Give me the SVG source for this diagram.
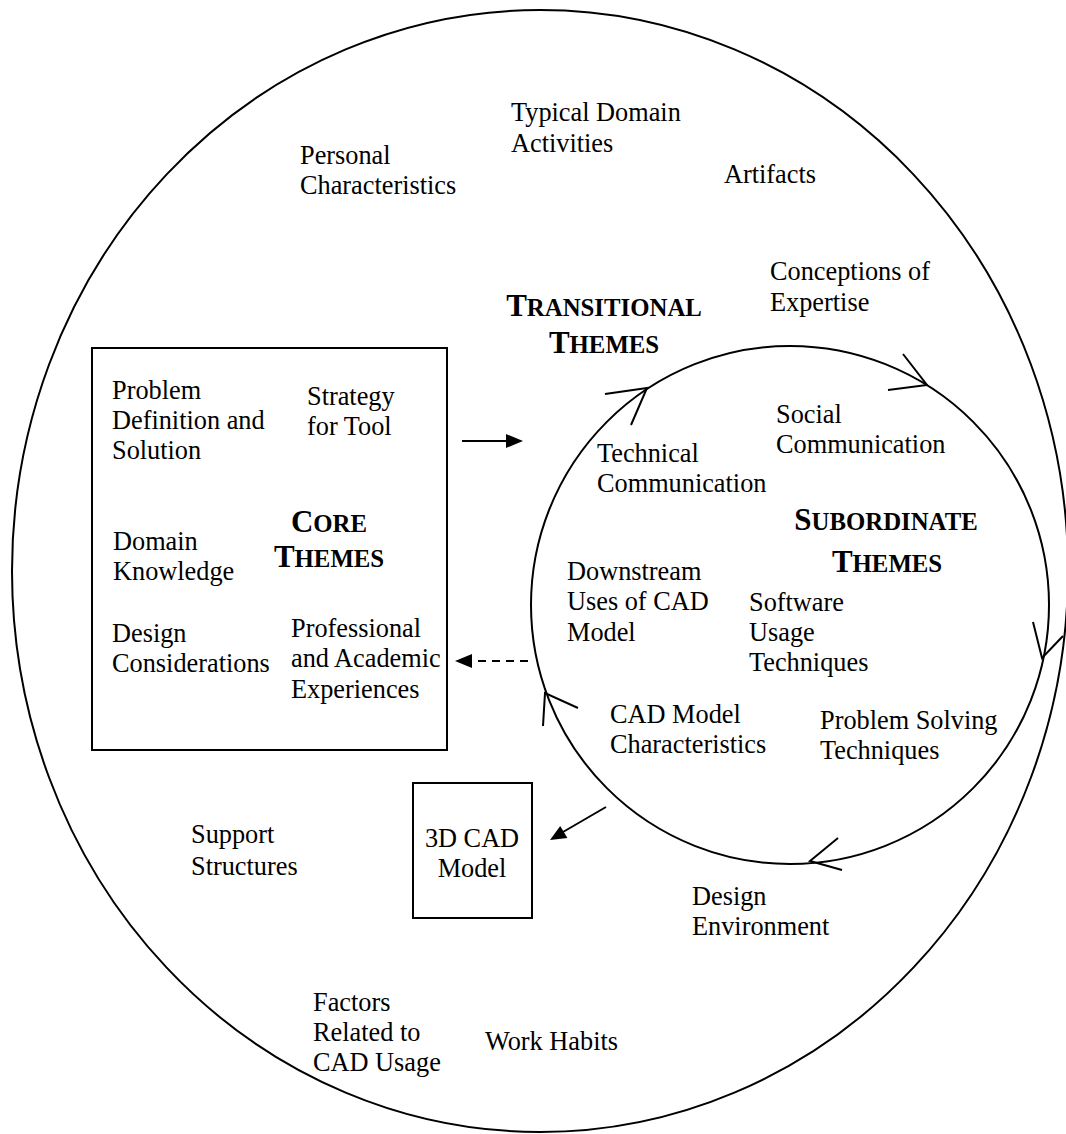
<svg xmlns="http://www.w3.org/2000/svg" width="1066" height="1134" viewBox="0 0 1066 1134">
  <style>
    .t { font-family: "Liberation Serif", "Times New Roman", serif; font-size: 26.3px; fill: #000; }
    .h { font-family: "Liberation Serif", "Times New Roman", serif; font-weight: bold; fill: #000; text-anchor: middle; }
    .big { font-size: 31px; }
    .sc { font-size: 24.8px; }
    .line { fill: none; stroke: #000; stroke-width: 2; }
    .chev { fill: none; stroke: #000; stroke-width: 2; stroke-linejoin: miter; }
  </style>
  <rect width="1066" height="1134" fill="#fff"/>

  <!-- outer boundary -->
  <g id="outer">
    <ellipse cx="540" cy="571" rx="528" ry="561" class="line"/>
    <text class="t" x="511" y="121">Typical Domain</text>
    <text class="t" x="511" y="152">Activities</text>
    <text class="t" x="300" y="164">Personal</text>
    <text class="t" x="300" y="194">Characteristics</text>
    <text class="t" x="724" y="183">Artifacts</text>
    <text class="t" x="770" y="280">Conceptions of</text>
    <text class="t" x="770" y="311">Expertise</text>
    <text class="t" x="191" y="843">Support</text>
    <text class="t" x="191" y="875">Structures</text>
    <text class="t" x="692" y="905">Design</text>
    <text class="t" x="692" y="935">Environment</text>
    <text class="t" x="313" y="1011">Factors</text>
    <text class="t" x="313" y="1041">Related to</text>
    <text class="t" x="313" y="1071">CAD Usage</text>
    <text class="t" x="485" y="1050">Work Habits</text>
  </g>

  <!-- transitional heading -->
  <g id="transitional">
    <text class="h" x="604" y="316"><tspan class="big">T</tspan><tspan class="sc">RANSITIONAL</tspan></text>
    <text class="h" x="604" y="353"><tspan class="big">T</tspan><tspan class="sc">HEMES</tspan></text>
  </g>

  <!-- core themes box -->
  <g id="core">
    <rect x="92" y="348" width="355" height="402" class="line"/>
    <text class="t" x="112" y="399">Problem</text>
    <text class="t" x="112" y="429">Definition and</text>
    <text class="t" x="112" y="459">Solution</text>
    <text class="t" x="307" y="405">Strategy</text>
    <text class="t" x="307" y="435">for Tool</text>
    <text class="h" x="329" y="532"><tspan class="big">C</tspan><tspan class="sc">ORE</tspan></text>
    <text class="h" x="329" y="567"><tspan class="big">T</tspan><tspan class="sc">HEMES</tspan></text>
    <text class="t" x="113" y="550">Domain</text>
    <text class="t" x="113" y="580">Knowledge</text>
    <text class="t" x="112" y="642">Design</text>
    <text class="t" x="112" y="672">Considerations</text>
    <text class="t" x="291" y="637">Professional</text>
    <text class="t" x="291" y="667">and Academic</text>
    <text class="t" x="291" y="698">Experiences</text>
  </g>

  <!-- subordinate themes cycle -->
  <g id="subordinate">
    <circle cx="790" cy="605" r="259" class="line"/>
    <text class="t" x="597" y="462">Technical</text>
    <text class="t" x="597" y="492">Communication</text>
    <text class="t" x="776" y="423">Social</text>
    <text class="t" x="776" y="453">Communication</text>
    <text class="h" x="886" y="530"><tspan class="big">S</tspan><tspan class="sc">UBORDINATE</tspan></text>
    <text class="h" x="887" y="572"><tspan class="big">T</tspan><tspan class="sc">HEMES</tspan></text>
    <text class="t" x="567" y="580">Downstream</text>
    <text class="t" x="567" y="610">Uses of CAD</text>
    <text class="t" x="567" y="641">Model</text>
    <text class="t" x="749" y="611">Software</text>
    <text class="t" x="749" y="641">Usage</text>
    <text class="t" x="749" y="671">Techniques</text>
    <text class="t" x="610" y="723">CAD Model</text>
    <text class="t" x="610" y="753">Characteristics</text>
    <text class="t" x="820" y="729">Problem Solving</text>
    <text class="t" x="820" y="759">Techniques</text>
  </g>

  <!-- 3D CAD model box -->
  <g id="cad-model">
    <rect x="413" y="783" width="119" height="135" class="line"/>
    <text class="t" x="472" y="847" text-anchor="middle">3D CAD</text>
    <text class="t" x="472" y="877" text-anchor="middle">Model</text>
  </g>

  <!-- connectors -->
  <g id="connectors">
    <!-- cycle direction marks -->
    <polyline class="chev" points="605,394 647,388 631,425"/>
    <polyline class="chev" points="888,390 927,385 903,354"/>
    <polyline class="chev" points="1033,622 1042,658 1063,636"/>
    <polyline class="chev" points="838,838 810,861 842,870"/>
    <polyline class="chev" points="543,726 545,693 578,708"/>

    <!-- core to subordinate -->
    <line x1="462" y1="441" x2="508" y2="441" class="line"/>
    <polygon points="523,441 506,434 506,448" fill="#000"/>

    <!-- subordinate back to core (dashed) -->
    <line x1="528" y1="661" x2="472" y2="661" class="line" stroke-dasharray="8,6"/>
    <polygon points="455,661 472,654 472,668" fill="#000"/>

    <!-- subordinate to 3D CAD model -->
    <line x1="606" y1="807" x2="563" y2="832" class="line"/>
    <polygon points="550,840 567.4,837.9 560.2,825.9" fill="#000"/>
  </g>
</svg>
